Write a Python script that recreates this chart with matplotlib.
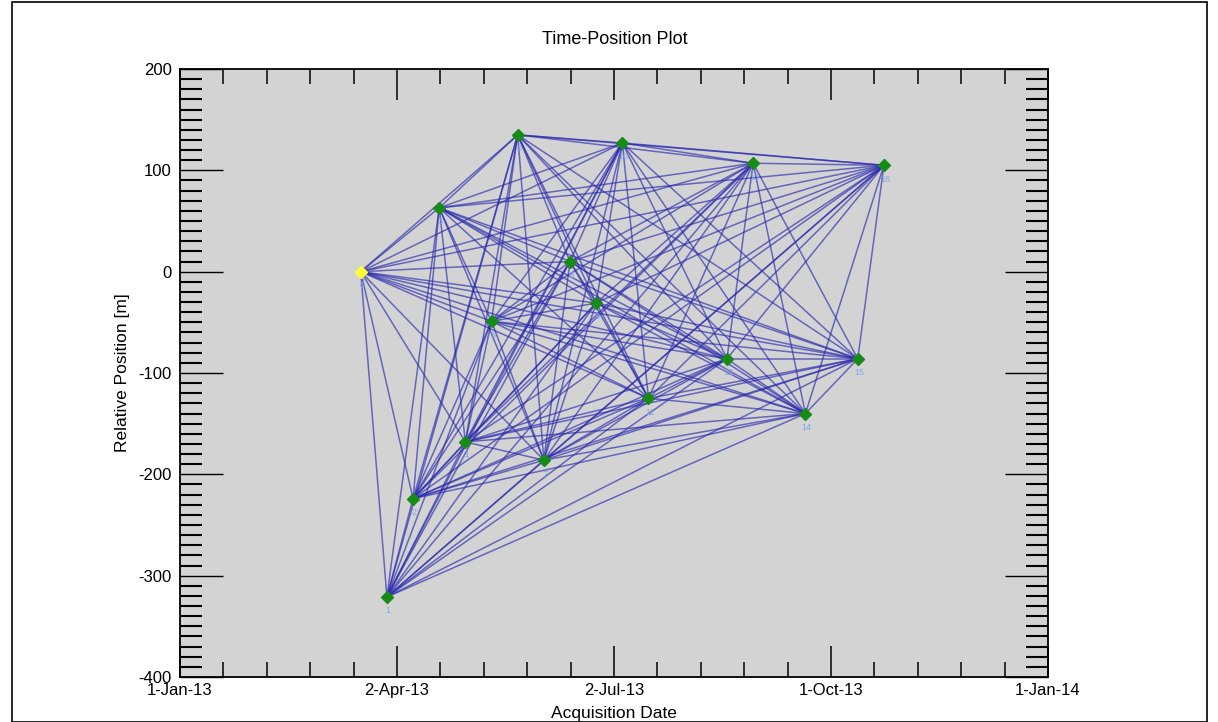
import datetime as dt
import matplotlib
matplotlib.use("Agg")
from matplotlib import pyplot as plt
import matplotlib.dates as mdates
from matplotlib.ticker import FixedLocator, MultipleLocator, FuncFormatter
from matplotlib.patches import Rectangle

plt.rcParams['font.family'] = ['Liberation Sans', 'DejaVu Sans']
plt.rcParams['axes.unicode_minus'] = False

# acquisition dates (days after 1 Jan 2013) and relative positions [m]
start = dt.date(2013, 1, 1)
day_offsets = [76, 87, 98, 109, 120, 131, 142, 153, 164, 175, 186, 197,
               230, 241, 263, 285, 296]
positions = [0, -321, -224, 63, -168, -49, 135, -186, 10, -31, 127, -125,
             -86, 107, -140, -86, 105]
labels = [str(i) for i in range(len(day_offsets))]
ref_index = 0

dates = [start + dt.timedelta(days=d) for d in day_offsets]
xs = mdates.date2num(dates)

fig = plt.figure(figsize=(12.18, 7.22), dpi=100)
ax = fig.add_axes([180/1218, 1-677/722, 868/1218, 608/722])
ax.set_facecolor('#d3d3d3')

# connections between every pair of acquisitions
n = len(xs)
for i in range(n):
    for j in range(i+1, n):
        ax.plot([xs[i], xs[j]], [positions[i], positions[j]],
                color='#2a2aae', alpha=0.65, lw=1.1, zorder=2)

for i in range(n):
    c = '#ffff33' if i == ref_index else '#178a17'
    ax.plot(xs[i], positions[i], marker='D', ms=6, color=c, mec=c, zorder=4)
    ax.annotate(labels[i], (xs[i], positions[i]), xytext=(1, -10),
                textcoords='offset points', ha='center', va='center',
                fontsize=6.5, color='#7fa7e6', zorder=5)

x0 = mdates.date2num(start)
x1 = mdates.date2num(dt.date(2014, 1, 1))
ax.set_xlim(x0, x1)
ax.set_ylim(-400, 200)

span = x1 - x0
ax.xaxis.set_major_locator(FixedLocator([x0 + k*span/4 for k in range(5)]))
ax.xaxis.set_minor_locator(FixedLocator([x0 + k*span/20 for k in range(21)]))

def datefmt(v, pos):
    d = mdates.num2date(v)
    return f"{d.day}-{d:%b-%y}"

ax.xaxis.set_major_formatter(FuncFormatter(datefmt))
ax.yaxis.set_major_locator(MultipleLocator(100))
ax.yaxis.set_minor_locator(MultipleLocator(10))

ax.tick_params(axis='x', which='major', direction='in', length=22, width=1.1,
               top=True, bottom=True, labelsize=12, pad=4)
ax.tick_params(axis='x', which='minor', direction='in', length=11, width=1.1,
               top=True, bottom=True)
ax.tick_params(axis='y', which='major', direction='in', length=31, width=1.0,
               left=True, right=True, labelsize=12, pad=6)
ax.tick_params(axis='y', which='minor', direction='in', length=16, width=1.5,
               left=True, right=True)
for s in ax.spines.values():
    s.set_linewidth(1.3)

ax.set_xlabel('Acquisition Date', fontsize=12.5, labelpad=6)
ax.set_ylabel('Relative Position [m]', fontsize=12.5, labelpad=6)
fig.text(615/1218, 1-40/722, 'Time-Position Plot', ha='center', va='center',
         fontsize=13)

fig.patches.append(Rectangle((12/1218, 0), 1195/1218, 1-2/722,
                             transform=fig.transFigure, fill=False,
                             edgecolor='black', lw=1.2))

fig.savefig('out.png', dpi=100)
